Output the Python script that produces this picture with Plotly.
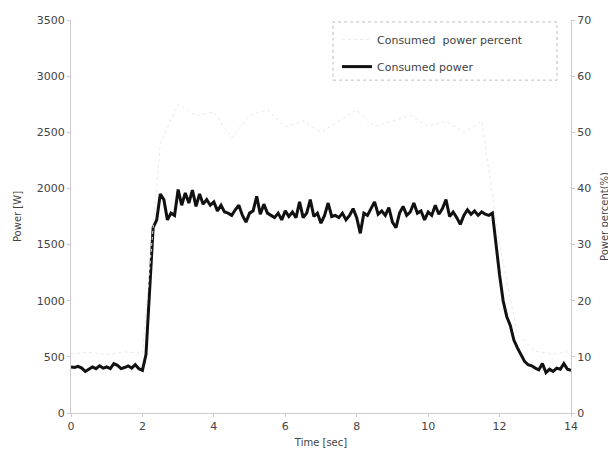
import plotly.graph_objects as go

# ---- data ----
time_s = [round(i * 0.1, 1) for i in range(141)]
power_w = [
    410, 405, 415, 400, 370, 390, 410, 395, 420, 400,
    410, 395, 440, 425, 395, 405, 420, 400, 430, 395,
    380, 520, 1050, 1650, 1720, 1950, 1900, 1720, 1780, 1760,
    1990, 1850, 1960, 1870, 1985, 1840, 1950, 1860, 1900, 1850,
    1880, 1800, 1850, 1790, 1780, 1760, 1810, 1850, 1760, 1700,
    1780, 1800, 1930, 1770, 1860, 1780, 1760, 1740, 1780, 1720,
    1800, 1750, 1790, 1740, 1880, 1740, 1780, 1900, 1750, 1780,
    1690, 1760, 1870, 1750, 1760, 1740, 1780, 1720, 1760, 1820,
    1740, 1600, 1780, 1760, 1820, 1880, 1770, 1800, 1760, 1830,
    1700, 1650, 1780, 1840, 1760, 1790, 1870, 1780, 1800, 1720,
    1790, 1760, 1850, 1770, 1820, 1900, 1750, 1790, 1740, 1680,
    1760, 1810, 1770, 1800, 1760, 1790, 1770, 1760, 1780, 1500,
    1230, 1000, 860, 780, 650, 580, 520, 460, 430, 420,
    400, 385, 440, 360, 390, 370, 400, 390, 440, 390,
    380,
]
pct_time = [0, 0.5, 1.0, 1.5, 2.0, 2.5, 3.0, 3.5, 4.0, 4.5, 5.0, 5.5, 6.0, 6.5,
            7.0, 7.5, 8.0, 8.5, 9.0, 9.5, 10.0, 10.5, 11.0, 11.5, 12.0, 12.5,
            13.0, 13.5, 14.0]
power_pct = [10.5, 10.8, 10.4, 10.9, 10.6, 48, 55, 53, 53.6, 49, 53, 54, 51, 52,
             50, 52, 54, 51, 52, 53, 51, 52, 50, 52, 30, 14, 11, 10.5, 11]

x_ticks = [0, 2, 4, 6, 8, 10, 12, 14]
y_ticks = [0, 500, 1000, 1500, 2000, 2500, 3000, 3500]
y2_ticks = [0, 10, 20, 30, 40, 50, 60, 70]

FONT = "DejaVu Sans, Arial, sans-serif"
GRAY = "#444444"
AX = "#cccccc"

fig = go.Figure()
fig.add_trace(go.Scatter(
    x=pct_time, y=power_pct, yaxis="y2", mode="lines",
    name="Consumed  power percent", legendgroup="a",
    line=dict(color="#e8e8e8", width=1, dash="dot"),
))
fig.add_trace(go.Scatter(
    x=time_s, y=power_w, mode="lines", name="Consumed power", legendgroup="b",
    line=dict(color="#111111", width=3),
))

# page body has an 8px default margin, so the figure is sized to fit inside it
fig.update_layout(
    width=608, height=448,
    margin=dict(l=63, r=45, t=12, b=43, autoexpand=False),
    paper_bgcolor="white", plot_bgcolor="white",
    font=dict(family=FONT, size=11, color=GRAY),
    showlegend=True,
    legend=dict(x=0.532, y=0.987, xanchor="left", yanchor="top",
                bgcolor="rgba(0,0,0,0)", borderwidth=0,
                font=dict(size=11, color=GRAY), tracegroupgap=8,
                itemwidth=30),
    xaxis=dict(range=[0, 14], tickvals=x_ticks, showgrid=False, zeroline=False,
               showline=True, linecolor=AX, linewidth=1, automargin=False,
               ticks="outside", ticklen=3, tickcolor=AX,
               title=dict(text="Time [sec]", standoff=6, font=dict(size=10))),
    yaxis=dict(range=[0, 3500], tickvals=y_ticks, showgrid=False, zeroline=False,
               showline=True, linecolor=AX, linewidth=1, automargin=False,
               ticks="outside", ticklen=3, tickcolor=AX,
               title=dict(text="Power [W]", standoff=13, font=dict(size=10))),
    yaxis2=dict(range=[0, 70], tickvals=y2_ticks, overlaying="y", side="right",
                showgrid=False, zeroline=False, showline=True, linecolor=AX,
                linewidth=1, ticks="outside", ticklen=3, tickcolor=AX,
                automargin=False,
                title=dict(text="Power percent(%)", standoff=10, font=dict(size=10))),
    shapes=[dict(type="rect", xref="paper", yref="paper",
                 x0=0.524, x1=0.972, y0=0.847, y1=0.995,
                 line=dict(color="#bbbbbb", width=1, dash="dot"))],
)

fig.write_html("out.html")
